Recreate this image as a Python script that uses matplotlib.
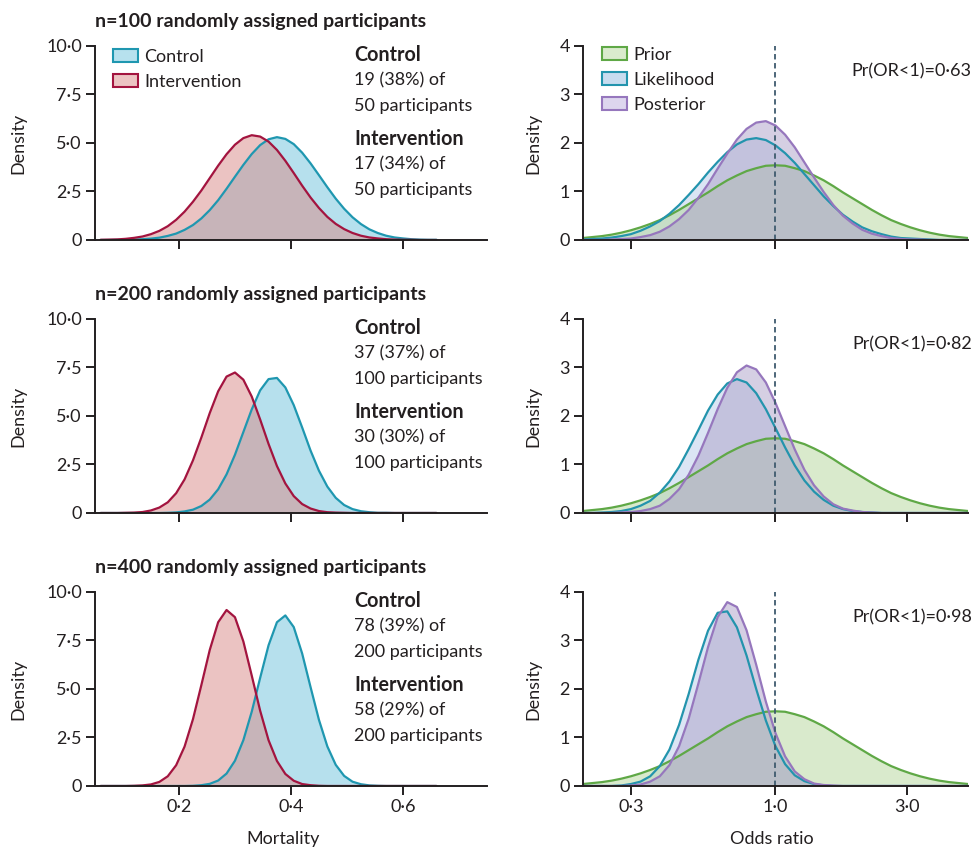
# ------------------------------------------------------
# Bayesian re-analysis of a two-arm trial at three sizes
# left: mortality in each arm, right: odds ratio (log axis)
# ------------------------------------------------------

import matplotlib
matplotlib.use('Agg')
import matplotlib.pyplot as plt
from matplotlib.patches import Patch
from matplotlib.ticker import NullLocator

plt.rcParams['font.family'] = ['Lato', 'DejaVu Sans']

# mortality axis points
mortality = [0.06, 0.075, 0.09, 0.105, 0.12, 0.135, 0.15, 0.165, 0.18, 0.195,
             0.21, 0.225, 0.24, 0.255, 0.27, 0.285, 0.3, 0.315, 0.33, 0.345,
             0.36, 0.375, 0.39, 0.405, 0.42, 0.435, 0.45, 0.465, 0.48, 0.495,
             0.51, 0.525, 0.54, 0.555, 0.57, 0.585, 0.6, 0.615, 0.63, 0.645, 0.66]

# density (control / intervention)
control_100 = [0, 0, 0.01, 0.01, 0.02, 0.04, 0.07, 0.12, 0.21, 0.33,
               0.52, 0.77, 1.11, 1.54, 2.05, 2.64, 3.26, 3.87, 4.43, 4.89,
               5.19, 5.30, 5.21, 4.94, 4.50, 3.95, 3.34, 2.72, 2.13, 1.61,
               1.17, 0.82, 0.55, 0.36, 0.22, 0.13, 0.08, 0.04, 0.02, 0.01, 0.01]
interv_100 = [0.01, 0.02, 0.03, 0.06, 0.11, 0.18, 0.30, 0.47, 0.71, 1.04,
              1.46, 1.97, 2.55, 3.19, 3.83, 4.42, 4.91, 5.25, 5.40, 5.33,
              5.07, 4.64, 4.08, 3.45, 2.80, 2.19, 1.65, 1.19, 0.83, 0.56,
              0.36, 0.22, 0.13, 0.08, 0.04, 0.02, 0.01, 0.01, 0, 0, 0]
control_200 = [0, 0, 0, 0, 0, 0, 0, 0, 0.01, 0.03,
               0.08, 0.17, 0.36, 0.69, 1.22, 1.99, 3.00, 4.17, 5.34, 6.32,
               6.90, 6.96, 6.47, 5.56, 4.41, 3.22, 2.18, 1.36, 0.78, 0.41,
               0.20, 0.09, 0.04, 0.01, 0.01, 0, 0, 0, 0, 0, 0]
interv_200 = [0, 0, 0, 0.01, 0.02, 0.05, 0.13, 0.28, 0.55, 1.02,
              1.73, 2.71, 3.89, 5.15, 6.27, 7.03, 7.24, 6.87, 6.00, 4.82,
              3.56, 2.42, 1.52, 0.87, 0.46, 0.23, 0.10, 0.04, 0.02, 0.01,
              0, 0, 0, 0, 0, 0, 0, 0, 0, 0, 0]
control_400 = [0, 0, 0, 0, 0, 0, 0, 0, 0, 0,
               0, 0.01, 0.04, 0.11, 0.28, 0.64, 1.30, 2.36, 3.83, 5.57,
               7.25, 8.44, 8.79, 8.19, 6.83, 5.10, 3.41, 2.04, 1.09, 0.52,
               0.22, 0.09, 0.03, 0.01, 0, 0, 0, 0, 0, 0, 0]
interv_400 = [0, 0, 0, 0, 0.01, 0.03, 0.08, 0.21, 0.50, 1.07,
              2.03, 3.44, 5.20, 7.01, 8.44, 9.07, 8.70, 7.45, 5.69, 3.88,
              2.36, 1.29, 0.62, 0.27, 0.10, 0.04, 0.01, 0, 0, 0,
              0, 0, 0, 0, 0, 0, 0, 0, 0, 0, 0]

# odds ratio axis points (even steps on the log axis)
odds_ratio = [0.1995, 0.2163, 0.2344, 0.2541, 0.2754, 0.2985, 0.3236, 0.3508, 0.3802, 0.4121,
              0.4467, 0.4842, 0.5248, 0.5689, 0.6166, 0.6683, 0.7244, 0.7852, 0.8511, 0.9226,
              1.0, 1.0839, 1.1749, 1.2735, 1.3804, 1.4962, 1.6218, 1.7579, 1.9055, 2.0654,
              2.2387, 2.4266, 2.6303, 2.8510, 3.0903, 3.3497, 3.6308, 3.9355, 4.2658, 4.6238, 5.0119]

prior = [0.04, 0.06, 0.08, 0.11, 0.15, 0.20, 0.26, 0.33, 0.41, 0.51,
         0.62, 0.74, 0.86, 0.98, 1.11, 1.23, 1.33, 1.42, 1.48, 1.53,
         1.54, 1.53, 1.48, 1.42, 1.33, 1.23, 1.11, 0.98, 0.86, 0.74,
         0.62, 0.51, 0.41, 0.33, 0.26, 0.20, 0.15, 0.11, 0.08, 0.06, 0.04]
likelihood_100 = [0.01, 0.02, 0.03, 0.05, 0.08, 0.12, 0.19, 0.28, 0.39, 0.54,
                  0.72, 0.93, 1.15, 1.39, 1.61, 1.81, 1.97, 2.07, 2.10, 2.06,
                  1.95, 1.79, 1.59, 1.36, 1.13, 0.90, 0.70, 0.52, 0.38, 0.26,
                  0.18, 0.12, 0.07, 0.04, 0.03, 0.02, 0.01, 0, 0, 0, 0]
posterior_100 = [0, 0, 0, 0.01, 0.02, 0.03, 0.06, 0.10, 0.17, 0.28,
                 0.43, 0.62, 0.87, 1.15, 1.47, 1.78, 2.07, 2.29, 2.42, 2.45,
                 2.36, 2.17, 1.91, 1.60, 1.29, 0.99, 0.72, 0.50, 0.34, 0.21,
                 0.13, 0.08, 0.04, 0.02, 0.01, 0.01, 0, 0, 0, 0, 0]
likelihood_200 = [0, 0, 0.01, 0.02, 0.04, 0.08, 0.15, 0.25, 0.42, 0.65,
                  0.95, 1.32, 1.71, 2.11, 2.44, 2.67, 2.76, 2.69, 2.47, 2.14,
                  1.75, 1.35, 0.98, 0.67, 0.44, 0.27, 0.15, 0.08, 0.04, 0.02,
                  0.01, 0, 0, 0, 0, 0, 0, 0, 0, 0, 0]
posterior_200 = [0, 0, 0, 0, 0.01, 0.02, 0.04, 0.08, 0.15, 0.29,
                 0.49, 0.79, 1.18, 1.65, 2.14, 2.58, 2.90, 3.04, 2.96, 2.69,
                 2.27, 1.79, 1.31, 0.89, 0.57, 0.34, 0.18, 0.09, 0.05, 0.02,
                 0.01, 0, 0, 0, 0, 0, 0, 0, 0, 0, 0]
likelihood_400 = [0, 0, 0, 0, 0.01, 0.04, 0.09, 0.20, 0.41, 0.75,
                  1.26, 1.90, 2.60, 3.20, 3.57, 3.60, 3.27, 2.69, 2.00, 1.35,
                  0.82, 0.45, 0.22, 0.10, 0.04, 0.01, 0, 0, 0, 0,
                  0, 0, 0, 0, 0, 0, 0, 0, 0, 0, 0]
posterior_400 = [0, 0, 0, 0, 0, 0.01, 0.03, 0.09, 0.20, 0.43,
                 0.82, 1.39, 2.11, 2.86, 3.48, 3.79, 3.69, 3.21, 2.50, 1.74,
                 1.09, 0.61, 0.30, 0.14, 0.05, 0.02, 0.01, 0, 0, 0,
                 0, 0, 0, 0, 0, 0, 0, 0, 0, 0, 0]

# panel texts
n_total = ['100', '200', '400']
control_counts = ['19 (38%) of', '37 (37%) of', '78 (39%) of']
interv_counts = ['17 (34%) of', '30 (30%) of', '58 (29%) of']
arm_sizes = ['50 participants', '100 participants', '200 participants']
pr_or = ['0·63', '0·82', '0·98']

control_rows = [control_100, control_200, control_400]
interv_rows = [interv_100, interv_200, interv_400]
likelihood_rows = [likelihood_100, likelihood_200, likelihood_400]
posterior_rows = [posterior_100, posterior_200, posterior_400]

# colours
dark = '#231f20'
ctrl_line, ctrl_fill = '#1f97b0', '#6fc3dd'
int_line, int_fill = '#a3143f', '#d98987'
prior_line, prior_fill = '#5fa846', '#b5d79b'
lik_line, lik_fill = '#2394ad', '#b9cdeb'
post_line, post_fill = '#9677bd', '#ada1c8'


def style(ax):
    for side in ['top', 'right']:
        ax.spines[side].set_visible(False)
    for side in ['left', 'bottom']:
        ax.spines[side].set_linewidth(1.4)
        ax.spines[side].set_color(dark)
    ax.tick_params(direction='out', length=6.5, width=1.4, color=dark,
                   labelsize=13, labelcolor=dark, pad=3)


fig = plt.figure(figsize=(9.76, 8.51), dpi=100)
bottoms = [0.7180, 0.3972, 0.0764]
line_kw = dict(lw=1.6, solid_joinstyle='round', solid_capstyle='round')
legend_kw = dict(loc='upper left', frameon=False, fontsize=13, handlelength=1.4,
                 handleheight=0.75, handletextpad=0.35, labelspacing=0.5,
                 borderpad=0, borderaxespad=0, labelcolor=dark)

for i, n in enumerate(n_total):
    # ---- mortality panel
    ax = fig.add_axes([0.0973, bottoms[i], 0.4016, 0.228])
    ax.fill_between(mortality, control_rows[i], color=ctrl_fill, alpha=0.5, lw=0)
    ax.fill_between(mortality, interv_rows[i], color=int_fill, alpha=0.5, lw=0)
    ax.plot(mortality, control_rows[i], color=ctrl_line, **line_kw)
    ax.plot(mortality, interv_rows[i], color=int_line, **line_kw)
    ax.set_xlim(0.05, 0.75)
    ax.set_ylim(0, 10)
    ax.set_yticks([0, 2.5, 5, 7.5, 10])
    ax.set_yticklabels(['0', '2·5', '5·0', '7·5', '10·0'])
    ax.set_xticks([0.2, 0.4, 0.6])
    style(ax)
    ax.set_ylabel('Density', fontsize=13, color=dark)
    ax.yaxis.set_label_coords(-0.176, 0.5)
    ax.text(0, 1.124, 'n=' + n + ' randomly assigned participants', transform=ax.transAxes,
            fontsize=14, fontweight='bold', color=dark, ha='left', va='center')

    # counts block on the right of the panel
    block = [('Control', 'bold', 0.954), (control_counts[i], 'normal', 0.822),
             (arm_sizes[i], 'normal', 0.693), ('Intervention', 'bold', 0.521),
             (interv_counts[i], 'normal', 0.389), (arm_sizes[i], 'normal', 0.260)]
    for txt, weight, yy in block:
        ax.text(0.661, yy, txt, transform=ax.transAxes, color=dark, va='center',
                fontsize=14.2 if weight == 'bold' else 13, fontweight=weight)

    if i == 2:
        ax.set_xticklabels(['0·2', '0·4', '0·6'])
        ax.set_xlabel('Mortality', fontsize=13, color=dark)
        ax.xaxis.set_label_coords(0.48, -0.23)
    else:
        ax.set_xticklabels([])
    if i == 0:
        ax.legend(handles=[Patch(facecolor='#b7e1ee', edgecolor=ctrl_line, lw=1.5, label='Control'),
                           Patch(facecolor='#ecc4c3', edgecolor=int_line, lw=1.5, label='Intervention')],
                  bbox_to_anchor=(0.046, 0.984), **legend_kw)

    # ---- odds ratio panel
    ax2 = fig.add_axes([0.5973, bottoms[i], 0.3945, 0.228])
    ax2.set_xscale('log')
    ax2.fill_between(odds_ratio, likelihood_rows[i], color=lik_fill, alpha=0.5, lw=0)
    ax2.fill_between(odds_ratio, prior, color=prior_fill, alpha=0.5, lw=0)
    ax2.fill_between(odds_ratio, posterior_rows[i], color=post_fill, alpha=0.5, lw=0)
    ax2.plot(odds_ratio, prior, color=prior_line, **line_kw)
    ax2.plot(odds_ratio, likelihood_rows[i], color=lik_line, **line_kw)
    ax2.plot(odds_ratio, posterior_rows[i], color=post_line, **line_kw)
    ax2.plot([1, 1], [0, 4], color='#3f5b6e', lw=1.3, dashes=(3, 2))
    ax2.set_xlim(0.2, 5.0)
    ax2.set_ylim(0, 4)
    ax2.xaxis.set_minor_locator(NullLocator())
    ax2.set_xticks([0.3, 1, 3])
    ax2.set_yticks([0, 1, 2, 3, 4])
    style(ax2)
    ax2.set_ylabel('Density', fontsize=13, color=dark)
    ax2.yaxis.set_label_coords(-0.109, 0.5)
    ax2.text(1.01, 0.87, 'Pr(OR<1)=' + pr_or[i], transform=ax2.transAxes, fontsize=13,
             color=dark, ha='right', va='center')
    if i == 2:
        ax2.set_xticklabels(['0·3', '1·0', '3·0'])
        ax2.set_xlabel('Odds ratio', fontsize=13, color=dark)
        ax2.xaxis.set_label_coords(0.49, -0.23)
    else:
        ax2.set_xticklabels([])
    if i == 0:
        ax2.legend(handles=[Patch(facecolor='#daebcd', edgecolor=prior_line, lw=1.5, label='Prior'),
                            Patch(facecolor='#c8dcef', edgecolor=lik_line, lw=1.5, label='Likelihood'),
                            Patch(facecolor='#ddd6ee', edgecolor=post_line, lw=1.5, label='Posterior')],
                   bbox_to_anchor=(0.049, 0.995), **legend_kw)

fig.savefig('out.png', dpi=100)
